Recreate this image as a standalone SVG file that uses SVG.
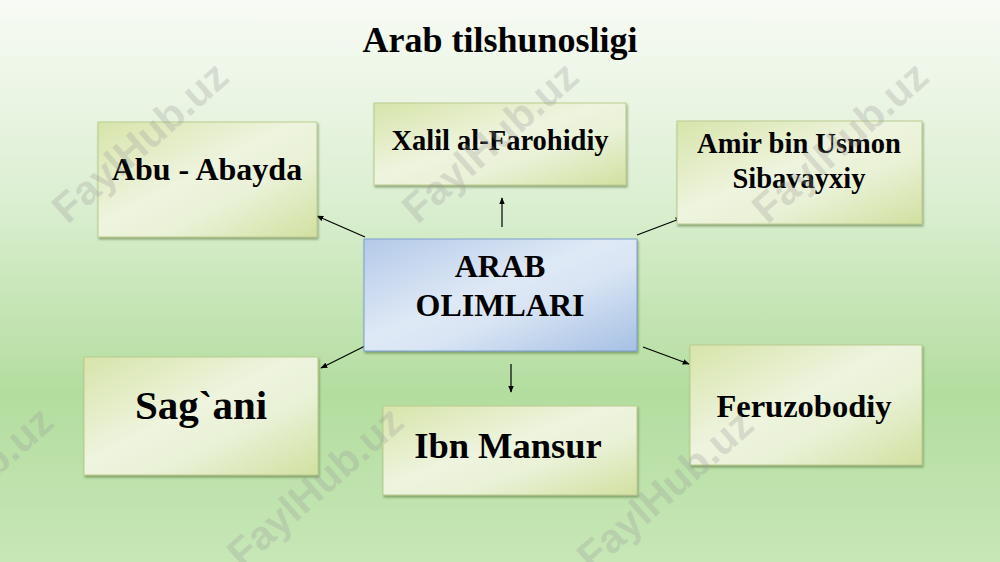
<svg xmlns="http://www.w3.org/2000/svg" width="1000" height="562" viewBox="0 0 1000 562">
  <defs>
    <linearGradient id="bg" x1="0" y1="0" x2="0" y2="1">
      <stop offset="0" stop-color="#f8fbf5"/>
      <stop offset="0.35" stop-color="#dcefd2"/>
      <stop offset="0.7" stop-color="#b3dd9f"/>
      <stop offset="1" stop-color="#c7e7b7"/>
    </linearGradient>
    <linearGradient id="gbox" x1="0" y1="0" x2="1" y2="1">
      <stop offset="0" stop-color="#d7e4aa"/>
      <stop offset="0.45" stop-color="#eef4de"/>
      <stop offset="0.65" stop-color="#e9f1d6"/>
      <stop offset="1" stop-color="#d2e0a0"/>
    </linearGradient>
    <linearGradient id="bbox" x1="0" y1="0" x2="1" y2="1">
      <stop offset="0" stop-color="#b3c9e8"/>
      <stop offset="0.45" stop-color="#dfe9f6"/>
      <stop offset="0.6" stop-color="#d9e5f4"/>
      <stop offset="1" stop-color="#a6c0e4"/>
    </linearGradient>
    <filter id="sh" x="-5%" y="-5%" width="115%" height="125%">
      <feDropShadow dx="1" dy="2" stdDeviation="1.2" flood-color="#4d6b30" flood-opacity="0.55"/>
    </filter>
    <marker id="ah" viewBox="0 0 10 10" refX="9" refY="5" markerWidth="7" markerHeight="7" orient="auto" markerUnits="userSpaceOnUse">
      <path d="M0,1 L10,5 L0,9 Z" fill="#000"/>
    </marker>
    <style>
      .g { fill: url(#gbox); stroke: #bccb8f; stroke-width: 1; filter: url(#sh); }
      .b { fill: url(#bbox); stroke: #7f9fcd; stroke-width: 1; filter: url(#sh); }
      .t { font-family: "Liberation Serif", "Times New Roman", serif; font-weight: bold; fill: #000; text-anchor: middle; }
      .c { stroke: #000; stroke-width: 1.2; fill: none; marker-end: url(#ah); }
      .wm { font-family: "Liberation Sans", Arial, sans-serif; font-weight: bold; font-size: 41px; fill: #9a9a9a; fill-opacity: 0.28; text-anchor: middle; }
    </style>
  </defs>

  <rect x="0" y="0" width="1000" height="562" fill="url(#bg)"/>

  <text class="t" x="500" y="52" font-size="36">Arab tilshunosligi</text>

  <g id="connectors">
    <line class="c" x1="502" y1="227" x2="502" y2="198"/>
    <line class="c" x1="365" y1="237" x2="317" y2="216"/>
    <line class="c" x1="637" y1="235" x2="682" y2="218"/>
    <line class="c" x1="367" y1="345" x2="321" y2="368"/>
    <line class="c" x1="511" y1="364" x2="511" y2="392"/>
    <line class="c" x1="643" y1="347" x2="689" y2="364"/>
  </g>

  <g id="node-center">
    <rect class="b" x="364" y="239" width="273" height="112"/>
    <text class="t" x="500" y="277" font-size="32">ARAB</text>
    <text class="t" x="500" y="316" font-size="32">OLIMLARI</text>
  </g>

  <g id="node-abu-abayda">
    <rect class="g" x="98" y="122" width="219" height="115"/>
    <text class="t" x="207" y="180" font-size="32">Abu - Abayda</text>
  </g>

  <g id="node-xalil">
    <rect class="g" x="374" y="103" width="252" height="82"/>
    <text class="t" x="500" y="150" font-size="28.5">Xalil al-Farohidiy</text>
  </g>

  <g id="node-amir">
    <rect class="g" x="677" y="121" width="245" height="103"/>
    <text class="t" x="799" y="153" font-size="28.5">Amir bin Usmon</text>
    <text class="t" x="799" y="188" font-size="28.5">Sibavayxiy</text>
  </g>

  <g id="node-sagani">
    <rect class="g" x="84" y="357" width="234" height="118"/>
    <text class="t" x="201" y="419" font-size="41">Sag`ani</text>
  </g>

  <g id="node-ibn-mansur">
    <rect class="g" x="383" y="406" width="254" height="89"/>
    <text class="t" x="508" y="458" font-size="36.5">Ibn Mansur</text>
  </g>

  <g id="node-feruzobodiy">
    <rect class="g" x="690" y="345" width="232" height="120"/>
    <text class="t" x="804" y="417" font-size="32.5">Feruzobodiy</text>
  </g>

  <g id="watermarks">
    <text class="wm" transform="translate(140,142) rotate(-41.5)" y="14">FaylHub.uz</text>
    <text class="wm" transform="translate(490,142) rotate(-41.5)" y="14">FaylHub.uz</text>
    <text class="wm" transform="translate(840,142) rotate(-41.5)" y="14">FaylHub.uz</text>
    <text class="wm" transform="translate(-35,487) rotate(-41.5)" y="14">FaylHub.uz</text>
    <text class="wm" transform="translate(315,487) rotate(-41.5)" y="14">FaylHub.uz</text>
    <text class="wm" transform="translate(665,490) rotate(-41.5)" y="14">FaylHub.uz</text>
  </g>
</svg>
